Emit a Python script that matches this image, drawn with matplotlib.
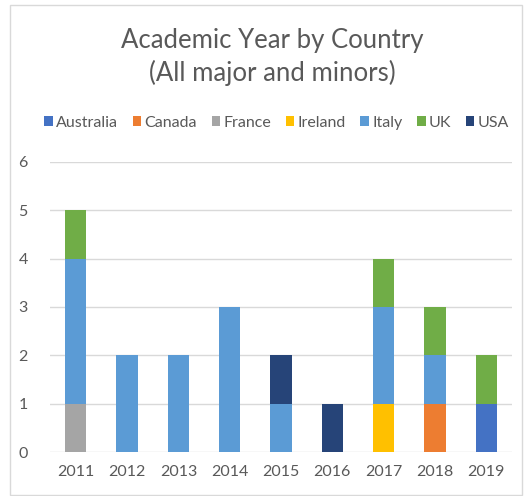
import matplotlib
matplotlib.use("Agg")
import matplotlib.pyplot as plt
from matplotlib.patches import Rectangle
import numpy as np

years = ["2011", "2012", "2013", "2014", "2015", "2016", "2017", "2018", "2019"]
countries = ["Australia", "Canada", "France", "Ireland", "Italy", "UK", "USA"]
colors = ["#4472C4", "#ED7D31", "#A5A5A5", "#FFC000", "#5B9BD5", "#70AD47", "#264478"]

australia = [0, 0, 0, 0, 0, 0, 0, 0, 1]
canada    = [0, 0, 0, 0, 0, 0, 0, 1, 0]
france    = [1, 0, 0, 0, 0, 0, 0, 0, 0]
ireland   = [0, 0, 0, 0, 0, 0, 1, 0, 0]
italy     = [3, 2, 2, 3, 1, 0, 2, 1, 0]
uk        = [1, 0, 0, 0, 0, 0, 1, 1, 1]
usa       = [0, 0, 0, 0, 1, 1, 0, 0, 0]
series = [australia, canada, france, ireland, italy, uk, usa]

plt.rcParams["font.family"] = ["Lato", "DejaVu Sans"]
text_color = "#595959"
grid_color = "#D9D9D9"

fig = plt.figure(figsize=(5.28, 4.96), dpi=100)
ax = fig.add_axes([0.0947, 0.0887, 0.875, 0.585])

x = np.arange(len(years))
bottom = np.zeros(len(years))
for name, vals, c in zip(countries, series, colors):
    vals = np.array(vals, dtype=float)
    ax.bar(x, vals, width=0.41, bottom=bottom, color=c, label=name, zorder=3)
    bottom += vals

ax.set_xlim(-0.5, len(years) - 0.5)
ax.set_ylim(0, 6)
ax.set_yticks(range(0, 7))
ax.set_xticks(x)
ax.set_xticklabels(years)
ax.yaxis.grid(True, color=grid_color, linewidth=1, zorder=0)
for s in ax.spines.values():
    s.set_visible(False)
ax.tick_params(axis="both", length=0, colors=text_color, labelsize=11.5)
ax.tick_params(axis="y", pad=16)
ax.tick_params(axis="x", pad=9)

fig.text(0.515, 0.918, "Academic Year by Country", ha="center", va="center",
         fontsize=18.5, color=text_color)
fig.text(0.515, 0.852, "(All major and minors)", ha="center", va="center",
         fontsize=18.5, color=text_color)

leg = fig.legend(loc="center", bbox_to_anchor=(0.524, 0.753), ncol=7, frameon=False,
                 fontsize=11.5, handlelength=0.55, handleheight=0.55, handletextpad=0.2,
                 columnspacing=0.9, labelcolor=text_color)

fig.patches.append(Rectangle((10 / 528, 0.002), 1 - 16 / 528, 1 - 6 / 496,
                             transform=fig.transFigure, fill=False,
                             edgecolor="#D9D9D9", linewidth=1))

fig.savefig("out.png", dpi=100)
